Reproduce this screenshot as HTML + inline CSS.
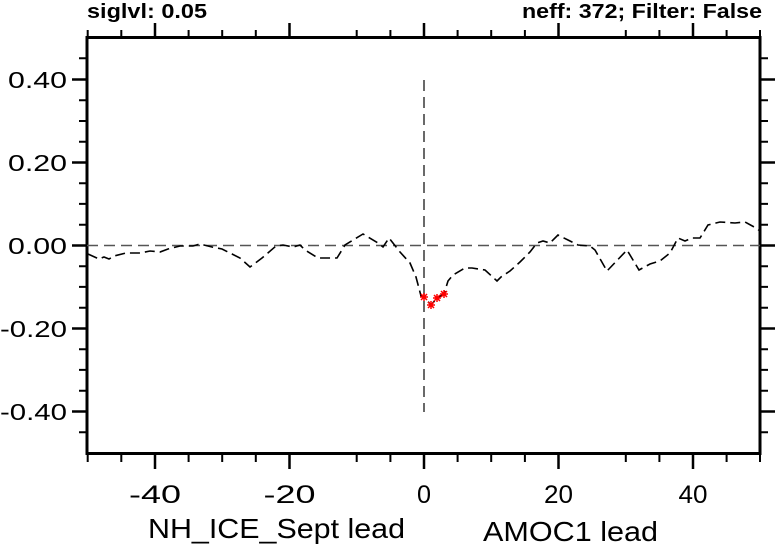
<!DOCTYPE html>
<html><head><style>body{margin:0;background:#fff}svg{display:block}</style></head><body>
<svg width="777" height="548" xmlns="http://www.w3.org/2000/svg" font-family="Liberation Sans, sans-serif">
<g stroke="#000" stroke-width="2">
<rect x="87" y="37.5" width="673" height="416" fill="none" stroke-width="3"/>
<path d="M87.7 454v8M121.3 454v8M188.6 454v8M222.2 454v8M255.8 454v8M356.7 454v8M390.4 454v8M457.6 454v8M491.2 454v8M524.9 454v8M625.8 454v8M659.4 454v8M726.6 454v8M760 454v8"/>
<path d="M155 454v15M289.5 454v15M424 454v15M558.5 454v15M693 454v15" stroke-width="2.5"/>
<path d="M87.7 37v-7M121.3 37v-7M188.6 37v-7M222.2 37v-7M255.8 37v-7M356.7 37v-7M390.4 37v-7M457.6 37v-7M491.2 37v-7M524.9 37v-7M625.8 37v-7M659.4 37v-7M726.6 37v-7M760 37v-7"/>
<path d="M155 37v-14M289.5 37v-14M424 37v-14M558.5 37v-14M693 37v-14" stroke-width="2.5"/>
<path d="M87 58.3h-8M87 100.2h-8M87 121h-8M87 141.7h-8M87 183.2h-8M87 203.9h-8M87 224.7h-8M87 266.2h-8M87 286.9h-8M87 307.7h-8M87 349.2h-8M87 369.9h-8M87 390.7h-8M87 432.2h-8M760 58.3h8M760 100.2h8M760 121h8M760 141.7h8M760 183.2h8M760 203.9h8M760 224.7h8M760 266.2h8M760 286.9h8M760 307.7h8M760 349.2h8M760 369.9h8M760 390.7h8M760 432.2h8"/>
<path d="M87 79.5h-15M87 162.5h-15M87 245.5h-15M87 328.5h-15M87 411.5h-15M760 79.5h15M760 162.5h15M760 245.5h15M760 328.5h15M760 411.5h15" stroke-width="2.5"/>
</g>
<line x1="87" y1="245.5" x2="760" y2="245.5" stroke="#555" stroke-width="1.6" stroke-dasharray="11,6"/>
<line x1="424" y1="80" x2="424" y2="412" stroke="#444" stroke-width="1.6" stroke-dasharray="11,6"/>
<polyline fill="none" stroke="#000" stroke-width="1.6" stroke-dasharray="10,5" points="88,254 99,259 104,257 109,259 114,256 126,253 140,253 150,251 160,252 168,249 180,246 193,246 200,244 212,247 222,249 240,258 250,267 262,258 276,246 283,245 293,247 300,245 305,250 318,258 330,258 337,258 345,245 363,234 378,243 383,247 389,238 400,252 410,263 416,277 421,296 424,297 431,305 437,298 444,294 448,281 453,275 465,268 472,268 485,270 497,281 501,277 510,271 520,262 530,252 537,243 543,241 550,243 558,235 568,240 578,245 590,246 595,250 607,271 627,250 639,270 650,264 660,261 670,253 678,238 685,241 692,238 700,238 708,225 720,222 735,223 745,222 756,228 760,231"/>
<g stroke="#f00" stroke-width="1.5">
<path d="M420 297h8M424 293v8M421 294l6 6M427 294l-6 6"/>
<path d="M427 305h8M431 301v8M428 302l6 6M434 302l-6 6"/>
<path d="M433 298h8M437 294v8M434 295l6 6M440 295l-6 6"/>
<path d="M440 294h8M444 290v8M441 291l6 6M447 291l-6 6"/>
</g>
<g font-size="23" fill="#000">
<text x="8" y="88" textLength="59" lengthAdjust="spacingAndGlyphs">0.40</text>
<text x="8" y="171" textLength="59" lengthAdjust="spacingAndGlyphs">0.20</text>
<text x="8" y="254" textLength="59" lengthAdjust="spacingAndGlyphs">0.00</text>
<text x="0" y="337" textLength="67" lengthAdjust="spacingAndGlyphs">-0.20</text>
<text x="0" y="420" textLength="67" lengthAdjust="spacingAndGlyphs">-0.40</text>
</g>
<g font-size="25">
<text x="129" y="503" textLength="52" lengthAdjust="spacingAndGlyphs">-40</text>
<text x="263.5" y="503" textLength="52" lengthAdjust="spacingAndGlyphs">-20</text>
<text x="417" y="503" textLength="14" lengthAdjust="spacingAndGlyphs">0</text>
<text x="544" y="503" textLength="29" lengthAdjust="spacingAndGlyphs">20</text>
<text x="678.5" y="503" textLength="29" lengthAdjust="spacingAndGlyphs">40</text>
</g>
<text x="87" y="18" font-size="20" font-weight="bold" textLength="120" lengthAdjust="spacingAndGlyphs">siglvl: 0.05</text>
<text x="522" y="18" font-size="20" font-weight="bold" textLength="240" lengthAdjust="spacingAndGlyphs">neff: 372; Filter: False</text>
<text x="148" y="538" font-size="28" textLength="257" lengthAdjust="spacingAndGlyphs">NH_ICE_Sept lead</text>
<text x="483" y="541" font-size="28" textLength="175" lengthAdjust="spacingAndGlyphs">AMOC1 lead</text>
</svg>
</body></html>
